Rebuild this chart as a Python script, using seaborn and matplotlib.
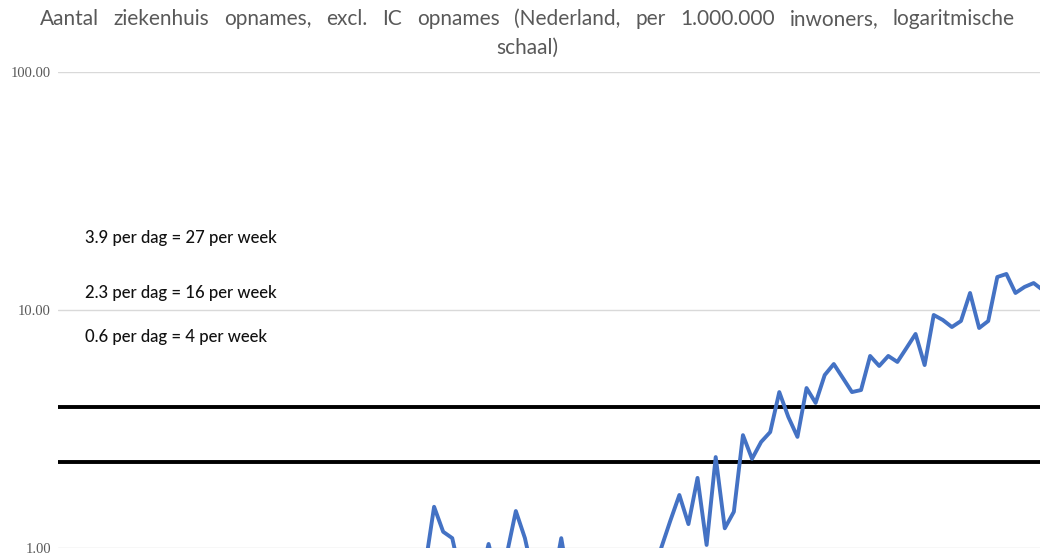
import numpy as np
import pandas as pd
import matplotlib
matplotlib.use("Agg")
import matplotlib.pyplot as plt
import seaborn as sns

# ---- data ----
day_index = list(range(-1, 68))
admissions_per_million = [
    0.83,                                     # -1 (below axis)
    1.49, 1.17, 1.10, 0.74, 0.70, 0.72, 1.04, 0.72, 0.94, 1.43,   # 0-9
    1.10, 0.74, 0.70, 0.68, 1.10, 0.66, 0.68, 0.70, 0.68, 0.70,   # 10-19
    0.68, 0.70, 0.68, 0.70, 0.75, 1.00, 1.30, 1.67, 1.26, 1.97,   # 20-29
    1.03, 2.41, 1.21, 1.42, 2.98, 2.37, 2.79, 3.07, 4.52, 3.55,   # 30-39
    2.93, 4.70, 4.07, 5.33, 5.93, 5.18, 4.52, 4.61, 6.41, 5.82,   # 40-49
    6.41, 6.05, 6.92, 7.93, 5.87, 9.53, 9.08, 8.48, 8.99, 11.79,  # 50-59
    8.40, 8.99, 13.76, 14.17, 11.79, 12.50, 12.98, 12.13,         # 60-67
]
threshold_values = [3.9, 2.3, 0.6]
threshold_labels = [
    "3.9 per dag = 27 per week",
    "2.3 per dag = 16 per week",
    "0.6 per dag = 4 per week",
]
y_ticks = [1, 10, 100]
y_tick_labels = ["1.00", "10.00", "100.00"]
title_lines = [
    "Aantal ziekenhuis opnames, excl. IC opnames (Nederland, per 1.000.000 inwoners, logaritmische",
    "schaal)",
]

df = pd.DataFrame({"dag": day_index, "opnames": admissions_per_million})

sns.set_theme(style="white")
plt.rcParams["font.family"] = ["Lato", "DejaVu Sans"]

W, H = 1040, 560
fig = plt.figure(figsize=(W / 100, H / 100), dpi=100)
ax = fig.add_axes([58 / W, 1 - 548 / H, 1 - 58 / W, (548 - 72) / H])

ax.set_yscale("log")
ax.set_ylim(1, 100)
ax.set_xlim(-41.4, 66.7)

for yv in y_ticks:
    ax.axhline(yv, color="#d9d9d9", lw=1.0, zorder=0)

for tv in threshold_values:
    ax.axhline(tv, color="black", lw=2.8, zorder=2)

sns.lineplot(data=df, x="dag", y="opnames", ax=ax, color="#4472C4",
             linewidth=2.8, zorder=3)

ax.set_yticks(y_ticks)
ax.set_yticklabels(y_tick_labels, fontsize=10.5, color="#595959",
                   family=["Liberation Serif"])
ax.yaxis.set_minor_locator(matplotlib.ticker.NullLocator())
ax.tick_params(axis="y", length=0, pad=5)
ax.set_xticks([])
ax.set_xlabel("")
ax.set_ylabel("")
for s in ax.spines.values():
    s.set_visible(False)

label_y = [238, 293, 337]
for lab, yp in zip(threshold_labels, label_y):
    fig.text(85 / W, 1 - yp / H, lab, fontsize=12, color="#111111",
             va="center", ha="left", weight="medium")

# justified first title line
words = title_lines[0].split(" ")
renderer = fig.canvas.get_renderer()
txts = [fig.text(0, 1 - 19 / H, w_, fontsize=15, color="#595959",
                 ha="left", va="center") for w_ in words]
widths = [t.get_window_extent(renderer).width for t in txts]
left, right = 40, 1015
gap = (right - left - sum(widths)) / (len(words) - 1)
xpos = left
for t, wd in zip(txts, widths):
    t.set_x(xpos / W)
    xpos += wd + gap

fig.text(527 / W, 1 - 48 / H, title_lines[1], fontsize=15, color="#595959",
         ha="center", va="center")

fig.savefig("out.png", dpi=100)
